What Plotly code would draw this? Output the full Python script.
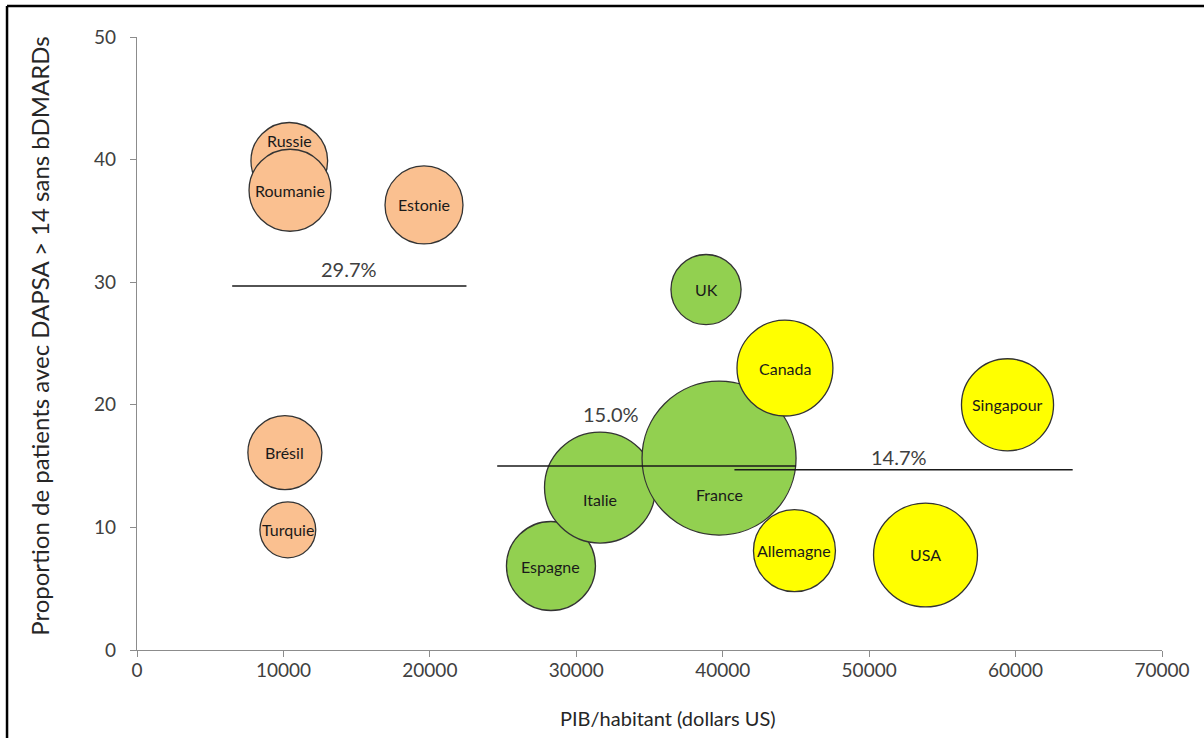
import plotly.graph_objects as go

# Données : PIB/habitant, proportion DAPSA > 14 sans bDMARDs, taille des bulles
pays_orange = ["Russie", "Roumanie", "Estonie", "Brésil", "Turquie"]
pib_orange = [10400, 10450, 19600, 10100, 10300]
prop_orange = [39.9, 37.5, 36.3, 16.1, 9.8]
taille_orange = [147, 168, 152, 137, 78]

pays_vert = ["UK", "Espagne", "Italie", "France"]
pib_vert = [38860, 28270, 31620, 39750]
prop_vert = [29.4, 6.85, 13.25, 15.65]
taille_vert = [123, 198, 308, 593]

pays_jaune = ["Singapour", "USA", "Canada", "Allemagne"]
pib_jaune = [59450, 53850, 44250, 44900]
prop_jaune = [20.0, 7.75, 23.0, 8.1]
taille_jaune = [212, 270, 230, 168]

# Moyennes par groupe et étendue des segments
moyennes = [29.7, 15.0, 14.7]
moy_x_debut = [6500, 24600, 40800]
moy_x_fin = [22500, 45000, 63900]

x_ticks = [0, 10000, 20000, 30000, 40000, 50000, 60000, 70000]
y_ticks = [0, 10, 20, 30, 40, 50]

POLICE = "Lato"
COR_TEXTE = "#404040"
COR_AXE = "#8c8c8c"

fig = go.Figure()

groupes = [
    (pays_orange, pib_orange, prop_orange, taille_orange, "#FAC090"),
    (pays_vert, pib_vert, prop_vert, taille_vert, "#92D050"),
    (pays_jaune, pib_jaune, prop_jaune, taille_jaune, "#FFFF00"),
]

# Bulles
for pays, pib, prop, taille, couleur in groupes:
    fig.add_trace(
        go.Scatter(
            x=pib,
            y=prop,
            mode="markers",
            text=pays,
            marker=dict(
                size=taille,
                sizemode="area",
                sizeref=0.05,
                color=couleur,
                opacity=1,
                line=dict(color="#333333", width=1.3),
            ),
            hoverinfo="text",
            showlegend=False,
        )
    )

# Segments des moyennes
for moy, x0, x1 in zip(moyennes, moy_x_debut, moy_x_fin):
    fig.add_trace(
        go.Scatter(
            x=[x0, x1],
            y=[moy, moy],
            mode="lines",
            line=dict(color="#1a1a1a", width=1.5),
            hoverinfo="skip",
            showlegend=False,
        )
    )

# Étiquettes des pays (décalage manuel pour quelques bulles)
decalage = {"Russie": 20, "Italie": -12, "France": -36}
annotations = []
for pays, pib, prop, taille, couleur in groupes:
    for nom, x, y in zip(pays, pib, prop):
        annotations.append(
            dict(
                x=x, y=y, text=nom, showarrow=False,
                yshift=decalage.get(nom, 0),
                font=dict(family=POLICE, size=16, color="#1a1a1a"),
            )
        )

# Étiquettes des moyennes
decalage_moy = [(0, 17), (-36, 52), (-5, 13)]
for moy, x0, x1, (dx, dy) in zip(moyennes, moy_x_debut, moy_x_fin, decalage_moy):
    annotations.append(
        dict(
            x=(x0 + x1) / 2, y=moy, text=f"{moy:.1f}%", showarrow=False,
            xshift=dx, yshift=dy,
            font=dict(family=POLICE, size=20, color=COR_TEXTE),
        )
    )

# Titres des axes
annotations.append(
    dict(
        text="Proportion de patients avec DAPSA > 14 sans bDMARDs",
        x=-0.095, y=0.512, xref="paper", yref="paper",
        textangle=-90, showarrow=False, xanchor="center", yanchor="middle",
        font=dict(family=POLICE, size=24, color="#262626"),
    )
)
annotations.append(
    dict(
        text="PIB/habitant (dollars US)",
        x=0.518, y=-0.111, xref="paper", yref="paper",
        showarrow=False, xanchor="center", yanchor="middle",
        font=dict(family=POLICE, size=20, color="#262626"),
    )
)

fig.update_layout(
    width=1204,
    height=738,
    margin=dict(l=137, r=42, t=37, b=88),
    paper_bgcolor="white",
    plot_bgcolor="white",
    annotations=annotations,
    shapes=[
        # Cadre (haut et gauche)
        dict(type="line", xref="paper", yref="paper", x0=-0.1268, x1=1.05,
             y0=1.0506, y1=1.0506, line=dict(color="black", width=2.5)),
        dict(type="line", xref="paper", yref="paper", x0=-0.1268, x1=-0.1268,
             y0=-0.16, y1=1.0506, line=dict(color="black", width=2.5)),
    ],
)

fig.update_xaxes(
    range=[0, 70000],
    tickvals=x_ticks,
    ticktext=[str(v) for v in x_ticks],
    showgrid=False,
    zeroline=False,
    showline=True,
    linecolor=COR_AXE,
    linewidth=1.3,
    ticks="outside",
    ticklen=6,
    tickcolor=COR_AXE,
    tickfont=dict(family=POLICE, size=19, color=COR_TEXTE),
    ticklabelstandoff=-3,
)
fig.update_yaxes(
    range=[0, 50],
    tickvals=y_ticks,
    showgrid=False,
    zeroline=False,
    showline=True,
    linecolor=COR_AXE,
    linewidth=1.3,
    ticks="outside",
    ticklen=6,
    tickcolor=COR_AXE,
    tickfont=dict(family=POLICE, size=19, color=COR_TEXTE),
    ticklabelstandoff=10,
)

# Supprime la marge par défaut du navigateur et la barre d'outils
fig.write_html(
    "out.html",
    config={"displayModeBar": False},
    post_script="document.body.style.margin='0';",
)
